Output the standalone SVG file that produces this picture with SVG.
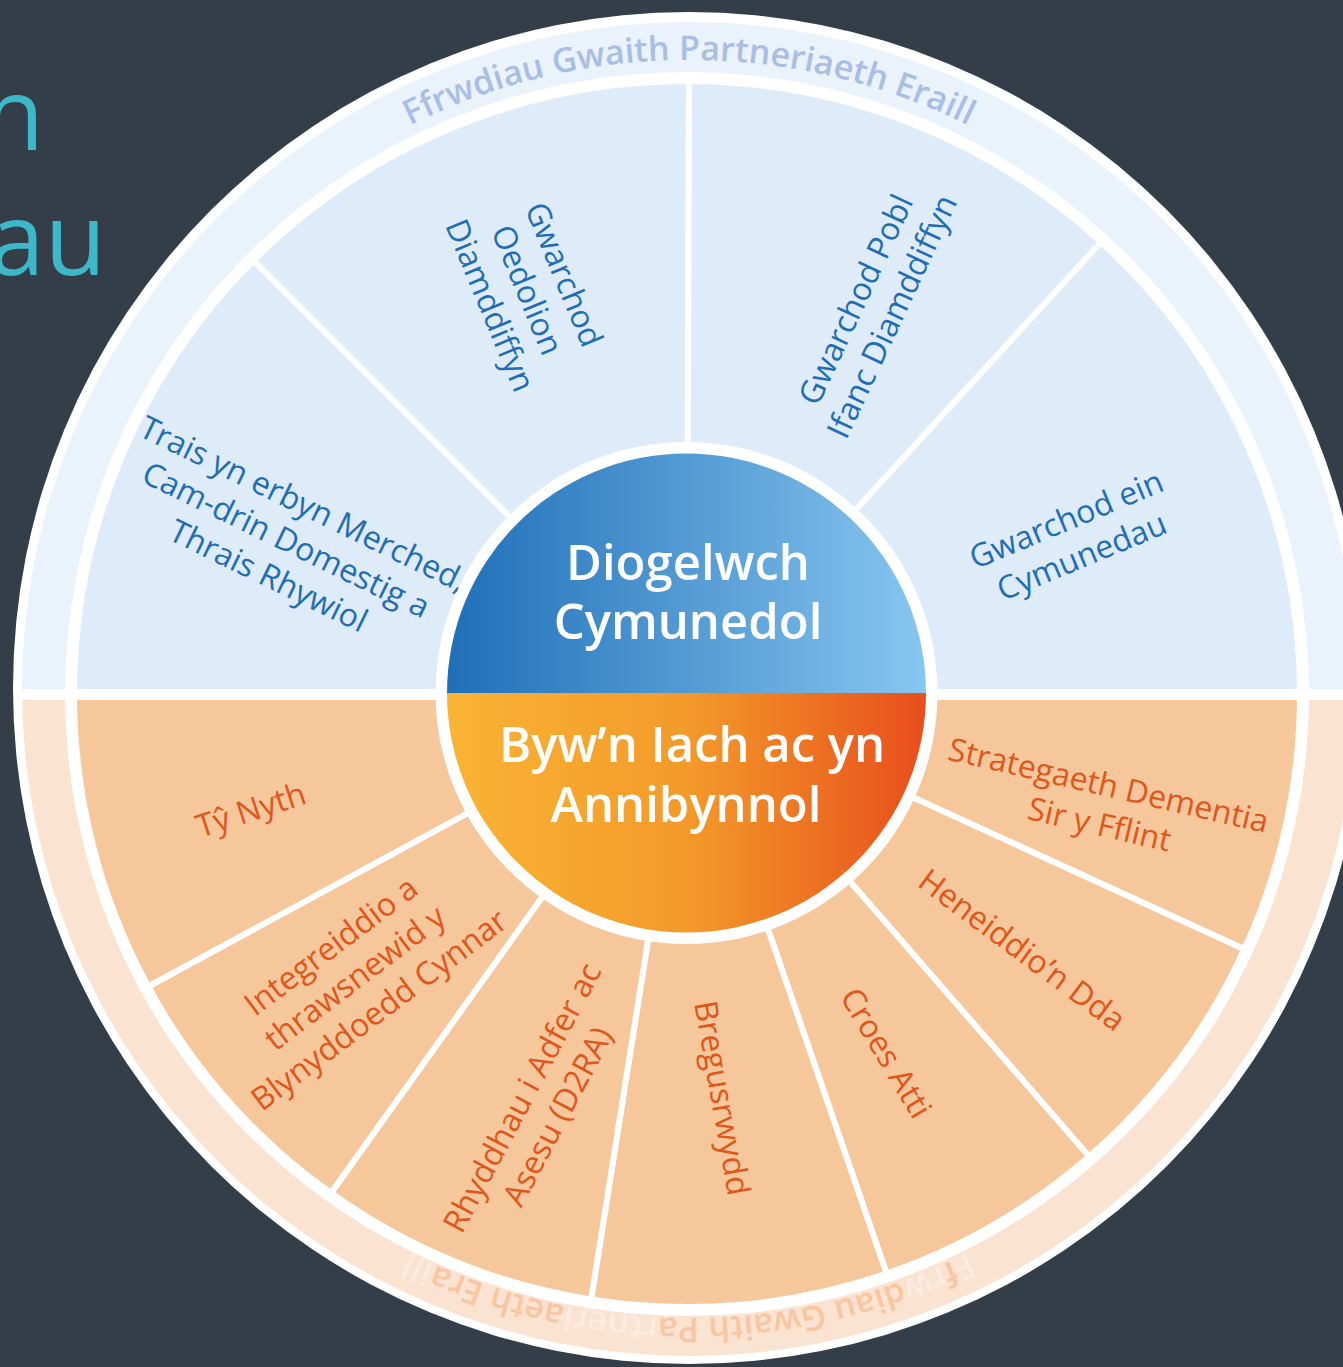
<svg xmlns="http://www.w3.org/2000/svg" width="1343" height="1367" viewBox="0 0 1343 1367">
  <style>
    .lbl { font-family: "Open Sans", "Noto Sans", "Liberation Sans", sans-serif; font-size: 32px; text-anchor: middle; }
    .blue { fill: #1f6db5; }
    .orange { fill: #e0561b; }
    .segb { fill: #deebf9; stroke: #ffffff; stroke-width: 6; stroke-linejoin: miter; }
    .sego { fill: #f5c79b; stroke: #ffffff; stroke-width: 6; stroke-linejoin: miter; }
    .hub { font-family: "Open Sans", "Noto Sans", "Liberation Sans", sans-serif; font-size: 49px; font-weight: 600; fill: #ffffff; text-anchor: middle; }
    .ring { font-family: "Open Sans", "Noto Sans", "Liberation Sans", sans-serif; font-size: 34px; font-weight: 600; text-anchor: middle; }
    .title { font-family: "Open Sans", "Noto Sans", "Liberation Sans", sans-serif; font-size: 100px; fill: #3db8c9; text-anchor: end; }
  </style>
  <defs>
    <linearGradient id="gBlue" x1="0" y1="0" x2="1" y2="0">
      <stop offset="0" stop-color="#1f6fb8"/>
      <stop offset="1" stop-color="#87c6ef"/>
    </linearGradient>
    <linearGradient id="gOrange" x1="0" y1="0" x2="1" y2="0">
      <stop offset="0" stop-color="#f9b434"/>
      <stop offset="0.5" stop-color="#f39a2a"/>
      <stop offset="1" stop-color="#e84e1b"/>
    </linearGradient>
    <path id="arcTop" d="M 244.2 244.2 A 629 629 0 0 1 1133.8 244.2"/>
    <path id="arcBottom" d="M 1133.8 1133.8 A 629 629 0 0 1 244.2 1133.8"/>
  </defs>

  <rect x="0" y="0" width="1343" height="1367" fill="#333e48"/>

  <g id="title">
    <text class="title" x="44" y="150">n</text>
    <text class="title" x="106" y="275">au</text>
  </g>

  <g id="outer-ring">
    <circle cx="689" cy="688" r="676" fill="#ffffff"/>
    <path d="M 22 689 A 667 667 0 0 1 1356 689 Z" fill="#eaf2fc"/>
    <path d="M 22 689 A 667 667 0 0 0 1356 689 Z" fill="#fae3d1"/>
    <circle cx="687" cy="694" r="622" fill="#ffffff"/>
    <text class="ring" fill="#a9bee4"><textPath href="#arcTop" startOffset="50%">Ffrwdiau Gwaith Partneriaeth Eraill</textPath></text>
    <text class="ring" fill="#f8c6a1"><textPath href="#arcBottom" startOffset="50%"><tspan fill="#fcebde">F</tspan>f<tspan fill="#fcebde">rw</tspan>diau Gwaith Pa<tspan fill="#fcebde">rtneri</tspan>aeth Era<tspan fill="#fcebde">ill</tspan></textPath></text>
  </g>

  <g id="seg-trais">
    <path class="segb" d="M 687 694 L 74 694 A 613 613 0 0 1 253.5 260.5 Z"/>
    <text class="lbl blue" transform="translate(286 540) rotate(26)"><tspan x="0" y="-29">Trais yn erbyn Merched,</tspan><tspan x="0" y="11">Cam-drin Domestig a</tspan><tspan x="0" y="51">Thrais Rhywiol</tspan></text>
  </g>
  <g id="seg-oedolion">
    <path class="segb" d="M 687 694 L 253.5 260.5 A 613 613 0 0 1 689 81 Z"/>
    <text class="lbl blue" transform="translate(527 290) rotate(67.5)"><tspan x="0" y="-29">Gwarchod</tspan><tspan x="0" y="11">Oedolion</tspan><tspan x="0" y="51">Diamddiffyn</tspan></text>
  </g>
  <g id="seg-pobl-ifanc">
    <path class="segb" d="M 687 694 L 689 81 A 613 613 0 0 1 1101.1 242 Z"/>
    <text class="lbl blue" transform="translate(874 308) rotate(-65)"><tspan x="0" y="-9">Gwarchod Pobl</tspan><tspan x="0" y="31">Ifanc Diamddiffyn</tspan></text>
  </g>
  <g id="seg-cymunedau">
    <path class="segb" d="M 687 694 L 1101.1 242 A 613 613 0 0 1 1300 694 Z"/>
    <text class="lbl blue" transform="translate(1074 538) rotate(-22.6)"><tspan x="0" y="-9">Gwarchod ein</tspan><tspan x="0" y="31">Cymunedau</tspan></text>
  </g>

  <g id="seg-dementia">
    <path class="sego" d="M 687 694 L 1300 694 A 613 613 0 0 1 1244.3 949.2 Z"/>
    <text class="lbl orange" transform="translate(1104 805) rotate(13)"><tspan x="0" y="-9">Strategaeth Dementia</tspan><tspan x="0" y="31">Sir y Fflint</tspan></text>
  </g>
  <g id="seg-heneiddio">
    <path class="sego" d="M 687 694 L 1244.3 949.2 A 613 613 0 0 1 1089.2 1156.6 Z"/>
    <text class="lbl orange" transform="translate(1022 950) rotate(36.5)"><tspan x="0" y="11">Heneiddio’n Dda</tspan></text>
  </g>
  <g id="seg-croes-atti">
    <path class="sego" d="M 687 694 L 1089.2 1156.6 A 613 613 0 0 1 886.6 1273.6 Z"/>
    <text class="lbl orange" transform="translate(886 1053) rotate(59)"><tspan x="0" y="11">Croes Atti</tspan></text>
  </g>
  <g id="seg-bregusrwydd">
    <path class="sego" d="M 687 694 L 886.6 1273.6 A 613 613 0 0 1 591.1 1299.5 Z"/>
    <text class="lbl orange" transform="translate(722 1098) rotate(80)"><tspan x="0" y="11">Bregusrwydd</tspan></text>
  </g>
  <g id="seg-d2ra">
    <path class="sego" d="M 687 694 L 591.1 1299.5 A 613 613 0 0 1 331 1193 Z"/>
    <text class="lbl orange" transform="translate(540 1107) rotate(-62)"><tspan x="0" y="-9">Rhyddhau i Adfer ac</tspan><tspan x="0" y="31">Asesu (D2RA)</tspan></text>
  </g>
  <g id="seg-integreiddio">
    <path class="sego" d="M 687 694 L 331 1193 A 613 613 0 0 1 148.3 986.5 Z"/>
    <text class="lbl orange" transform="translate(355 978) rotate(-37)"><tspan x="0" y="-29">Integreiddio a</tspan><tspan x="0" y="11">thrawsnewid y</tspan><tspan x="0" y="51">Blynyddoedd Cynnar</tspan></text>
  </g>
  <g id="seg-ty-nyth">
    <path class="sego" d="M 687 694 L 148.3 986.5 A 613 613 0 0 1 74 694 Z"/>
    <text class="lbl orange" transform="translate(251 810) rotate(-18)"><tspan x="0" y="11">Tŷ Nyth</tspan></text>
  </g>

  <g id="dividers">
    <rect x="14" y="689" width="1329" height="11" fill="#ffffff"/>
  </g>

  <g id="hub-diogelwch">
    <circle cx="686.5" cy="693" r="251" fill="#ffffff"/>
    <path d="M 447 693 A 239.5 239.5 0 0 1 926 693 Z" fill="url(#gBlue)"/>
    <text class="hub" x="688" y="580">Diogelwch</text>
    <text class="hub" x="688" y="639">Cymunedol</text>
  </g>
  <g id="hub-byw">
    <path d="M 447 693 A 239.5 239.5 0 0 0 926 693 Z" fill="url(#gOrange)"/>
    <text class="hub" x="692" y="762">Byw’n Iach ac yn</text>
    <text class="hub" x="686" y="822">Annibynnol</text>
  </g>
</svg>
